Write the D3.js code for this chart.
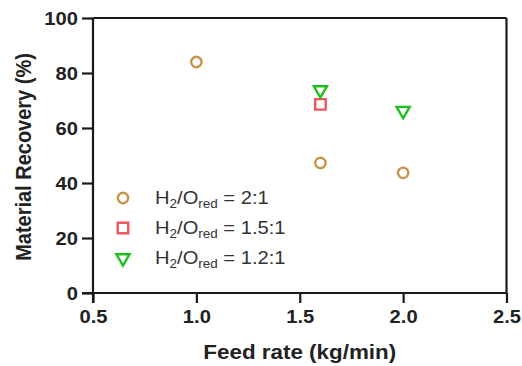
<!DOCTYPE html>
<html><head><meta charset="utf-8">
<script src="https://cdn.jsdelivr.net/npm/d3@7"></script>
<style>body{margin:0;background:#fff}svg{display:block}text{font-family:"Liberation Sans",Arial,sans-serif}</style>
</head><body>
<svg id="c" width="522" height="366"></svg>
<script>
const xTicks = [0.5, 1.0, 1.5, 2.0, 2.5];
const yTicks = [0, 20, 40, 60, 80, 100];
const seriesNames = ["2:1", "1.5:1", "1.2:1"];
const seriesColors = ["#c8944c", "#f2545c", "#1fbf1f"];
const seriesShapes = ["circle", "square", "triangle"];
const s1x = [1.0, 1.6, 2.0], s1y = [84, 47.3, 43.7];
const s2x = [1.6], s2y = [68.6];
const s3x = [1.6, 2.0], s3y = [73.8, 66.3];
const seriesData = [[s1x, s1y], [s2x, s2y], [s3x, s3y]];

const SX = 1.12; // horizontal stretch of the text glyphs
const svg = d3.select("#c");
const L = 93, R = 506.5, T = 18, B = 293;
const x = d3.scaleLinear().domain([0.5, 2.5]).range([L, R]);
const y = d3.scaleLinear().domain([0, 100]).range([B, T]);
const col = "#1a1a1a";

svg.append("line").attr("x1", L).attr("x2", R).attr("y1", T).attr("y2", T).attr("stroke", col).attr("stroke-width", 2.2);
svg.append("line").attr("x1", R).attr("x2", R).attr("y1", T).attr("y2", B).attr("stroke", col).attr("stroke-width", 2.2);

const xa = svg.append("g").attr("transform", `translate(0,${B})`)
  .call(d3.axisBottom(x).tickValues(xTicks).tickFormat(d3.format(".1f")).tickSize(10).tickSizeOuter(0).tickPadding(4));
const ya = svg.append("g").attr("transform", `translate(${L},0)`)
  .call(d3.axisLeft(y).tickValues(yTicks).tickFormat(d3.format("d")).tickSize(11).tickSizeOuter(0).tickPadding(4));
[xa, ya].forEach(a => {
  a.selectAll("path,line").attr("stroke", col).attr("stroke-width", 2.2);
  a.selectAll("text").attr("fill", "#222").style("font-size", "18px").style("font-weight", "bold")
    .each(function () {
      const t = d3.select(this);
      const ox = +t.attr("x") || 0;
      t.attr("x", ox / SX).attr("transform", `scale(${SX},1)`);
    });
});
xa.selectAll("text").attr("dy", "0.71em").attr("y", 17);
ya.selectAll("text").attr("dy", "0.36em");
xa.select(".domain").attr("d", `M${L - 11},0H${R}`);
ya.select(".domain").attr("d", `M0,${T}V${B + 10}`);

const sym = {
  circle: d3.symbol().type(d3.symbolCircle).size(85),
  square: d3.symbol().type(d3.symbolSquare).size(110),
  triangle: d3.symbol().type(d3.symbolTriangle).size(75)
};
function drawMarker(g, shape, color, cx, cy) {
  g.append("path").attr("d", sym[shape]())
    .attr("transform", `translate(${cx},${cy})` + (shape === "triangle" ? " rotate(180)" : ""))
    .attr("fill", "none").attr("stroke", color).attr("stroke-width", 2.4);
}
const pts = svg.append("g");
seriesData.forEach((sd, i) => {
  sd[0].forEach((xv, j) => drawMarker(pts, seriesShapes[i], seriesColors[i], x(xv), y(sd[1][j])));
});

const lg = svg.append("g");
const rowY = [198, 228, 258];
seriesNames.forEach((n, i) => {
  drawMarker(lg, seriesShapes[i], seriesColors[i], 123, rowY[i]);
  const g = lg.append("g").attr("transform", `translate(155,${rowY[i] + 6}) scale(${SX},1)`);
  const t = g.append("text").attr("x", 0).attr("y", 0).attr("fill", "#333").style("font-size", "18px");
  t.append("tspan").text("H");
  t.append("tspan").text("2").attr("dy", 4).style("font-size", "12px");
  t.append("tspan").text("/O").attr("dy", -4);
  t.append("tspan").text("red").attr("dy", 4).style("font-size", "12px");
  t.append("tspan").text(" = " + n).attr("dy", -4);
});

svg.append("g").attr("transform", `translate(${(L + R) / 2},359) scale(${SX},1)`)
  .append("text").attr("text-anchor", "middle")
  .style("font-size", "20px").style("font-weight", "bold").attr("fill", "#222").text("Feed rate (kg/min)");
svg.append("g").attr("transform", `translate(31,157) scale(${SX},1) rotate(-90)`)
  .append("text").attr("text-anchor", "middle")
  .style("font-size", "20px").style("font-weight", "bold").attr("fill", "#222").text("Material Recovery (%)");
</script>
</body></html>
